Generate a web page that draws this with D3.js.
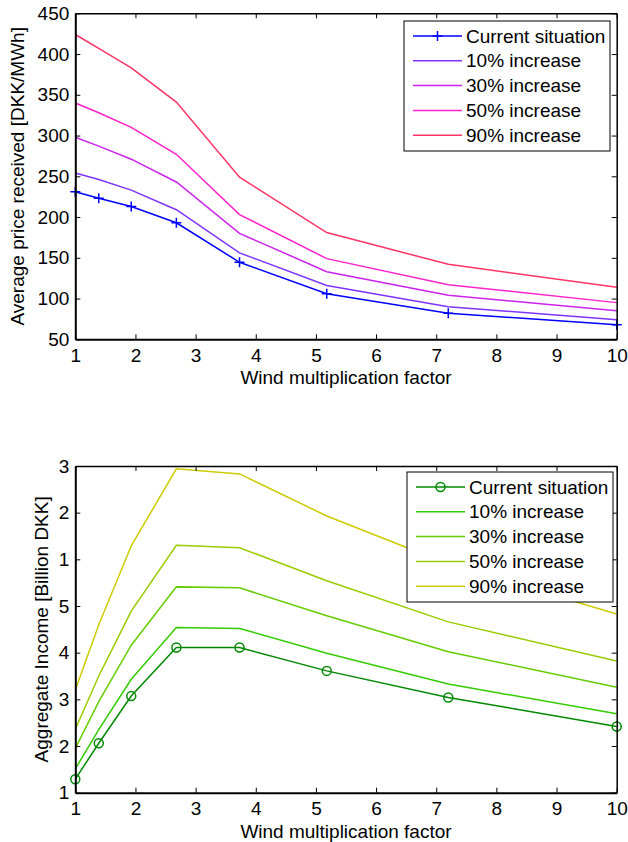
<html lang="en">
<head>
<meta charset="UTF-8">
<title>Wind multiplication factor</title>
<script src="https://d3js.org/d3.v7.min.js"></script>
<style>
    body { margin: 0; background: #fff; }
    svg { font-family: "Liberation Sans", Arial, sans-serif; }
</style>
</head>
<body>
<div id="chart"></div>
<script>
// wind multiplication factors (x values)
var windFactor = [1, 1.39, 1.93, 2.68, 3.73, 5.18, 7.2, 10];
var seriesNames = ["Current situation", "10% increase", "30% increase", "50% increase", "90% increase"];

// average price received [DKK/MWh]
var priceCurrent = [231, 223, 213, 193, 144.5, 106, 82, 68];
var price10 = [254, 246, 233, 209, 156, 116, 90, 74];
var price30 = [298, 287, 271, 243, 180, 133, 104, 85];
var price50 = [340, 328, 310, 277, 203, 149, 117, 95];
var price90 = [424, 407, 383, 341, 249, 181, 142, 114];

// aggregate income, in the units of the axis tick positions
var incomeCurrent = [1.29, 2.06, 3.07, 4.11, 4.11, 3.61, 3.04, 2.42];
var income10 = [1.51, 2.35, 3.43, 4.54, 4.52, 3.99, 3.33, 2.69];
var income30 = [1.95, 2.95, 4.16, 5.41, 5.39, 4.79, 4.02, 3.26];
var income50 = [2.36, 3.5, 4.89, 6.30, 6.25, 5.54, 4.66, 3.82];
var income90 = [3.2, 4.6, 6.29, 7.94, 7.83, 6.93, 5.9, 4.83];

var xTicks = [1, 2, 3, 4, 5, 6, 7, 8, 9, 10];
var priceTicks = [50, 100, 150, 200, 250, 300, 350, 400, 450];
var incomeTickPos = [1, 2, 3, 4, 5, 6, 7, 8];
var incomeTickLabels = ["1", "2", "3", "4", "5", "1", "2", "3"];

var priceColors = ["#0000ff", "#7f33ff", "#cc22ee", "#ff22cc", "#ff3366"];
var incomeColors = ["#008800", "#33cc00", "#66cc00", "#99cc00", "#cccc00"];

var W = 628, H = 842;
var svg = d3.select("#chart").append("svg")
    .attr("width", W)
    .attr("height", H);

function drawPanel(opt) {
    var x = d3.scaleLinear().domain([1, 10]).range([75.3, 616.7]);
    var y = d3.scaleLinear().domain(opt.yDomain).range([opt.bottom, opt.top]);
    var g = svg.append("g");

    // lines
    var line = d3.line()
        .x(function(d, i) { return x(windFactor[i]); })
        .y(function(d) { return y(d); });
    opt.series.forEach(function(s, k) {
        g.append("path")
            .attr("d", line(s))
            .attr("fill", "none")
            .attr("stroke", opt.colors[k])
            .attr("stroke-width", 1.5);
    });

    // markers for current situation
    var cur = opt.series[0];
    if (opt.marker == "plus") {
        g.selectAll(".mk").data(cur).enter().append("path")
            .attr("d", function(d, i) {
                var cx = x(windFactor[i]), cy = y(d);
                return "M" + (cx - 5) + "," + cy + "H" + (cx + 5) + "M" + cx + "," + (cy - 5) + "V" + (cy + 5);
            })
            .attr("stroke", opt.colors[0])
            .attr("stroke-width", 1.5);
    } else {
        g.selectAll(".mk").data(cur).enter().append("circle")
            .attr("cx", function(d, i) { return x(windFactor[i]); })
            .attr("cy", function(d) { return y(d); })
            .attr("r", 4.5)
            .attr("fill", "none")
            .attr("stroke", opt.colors[0])
            .attr("stroke-width", 1.5);
    }

    // axes (inward ticks on all four sides)
    var fs = "19px";
    var bottomAx = g.append("g").attr("transform", "translate(0," + opt.bottom + ")")
        .call(d3.axisBottom(x).tickValues(xTicks).tickSizeInner(-5).tickSizeOuter(0).tickPadding(9));
    var topAx = g.append("g").attr("transform", "translate(0," + opt.top + ")")
        .call(d3.axisTop(x).tickValues(xTicks).tickSizeInner(-5).tickSizeOuter(0).tickFormat(""));
    var leftAx = g.append("g").attr("transform", "translate(75.3,0)")
        .call(d3.axisLeft(y).tickValues(opt.yTicks).tickSizeInner(-5).tickSizeOuter(0).tickPadding(6)
            .tickFormat(function(d, i) { return opt.yLabels[i]; }));
    var rightAx = g.append("g").attr("transform", "translate(616.7,0)")
        .call(d3.axisRight(y).tickValues(opt.yTicks).tickSizeInner(-5).tickSizeOuter(0).tickFormat(""));
    [bottomAx, topAx, leftAx, rightAx].forEach(function(a) {
        a.selectAll("path.domain").attr("stroke", "#000").attr("stroke-width", 1.5);
        a.selectAll(".tick line").attr("stroke", "#000").attr("stroke-width", 1);
        a.selectAll("text").attr("fill", "#000").style("font-size", fs).style("font-family", null);
    });
    bottomAx.selectAll("path.domain").attr("stroke-width", 2);
    leftAx.selectAll("path.domain").attr("stroke-width", 2);

    // axis titles
    g.append("text")
        .attr("x", (75.3 + 616.7) / 2)
        .attr("y", opt.bottom + 45)
        .attr("text-anchor", "middle")
        .style("font-size", fs)
        .text("Wind multiplication factor");
    g.append("text")
        .attr("transform", "translate(" + opt.yTitleX + "," + ((opt.top + opt.bottom) / 2) + ") rotate(-90)")
        .attr("text-anchor", "middle")
        .style("font-size", fs)
        .text(opt.yTitle);

    // legend
    var lg = g.append("g").attr("transform", "translate(" + opt.legend[0] + "," + opt.legend[1] + ")");
    lg.append("rect")
        .attr("width", 206).attr("height", 130)
        .attr("fill", "#fff").attr("stroke", "#000").attr("stroke-width", 1);
    seriesNames.forEach(function(name, k) {
        var cy = 15 + k * 24.8;
        lg.append("line")
            .attr("x1", 9).attr("x2", 58).attr("y1", cy).attr("y2", cy)
            .attr("stroke", opt.colors[k]).attr("stroke-width", 1.5);
        lg.append("text")
            .attr("x", 62).attr("y", cy).attr("dy", "0.35em")
            .style("font-size", fs)
            .text(name);
    });
    var mx = 33.5, my = 15;
    if (opt.marker == "plus") {
        lg.append("path")
            .attr("d", "M" + (mx - 5) + "," + my + "H" + (mx + 5) + "M" + mx + "," + (my - 5) + "V" + (my + 5))
            .attr("stroke", opt.colors[0]).attr("stroke-width", 1.5);
    } else {
        lg.append("circle").attr("cx", mx).attr("cy", my).attr("r", 4.5)
            .attr("fill", "none").attr("stroke", opt.colors[0]).attr("stroke-width", 1.5);
    }
}

drawPanel({
    top: 13.3, bottom: 339.3,
    yDomain: [50, 450],
    yTicks: priceTicks,
    yLabels: priceTicks.map(String),
    series: [priceCurrent, price10, price30, price50, price90],
    colors: priceColors,
    marker: "plus",
    yTitle: "Average price received [DKK/MWh]",
    yTitleX: 24,
    legend: [404, 21]
});

drawPanel({
    top: 466, bottom: 792.7,
    yDomain: [1, 8],
    yTicks: incomeTickPos,
    yLabels: incomeTickLabels,
    series: [incomeCurrent, income10, income30, income50, income90],
    colors: incomeColors,
    marker: "circle",
    yTitle: "Aggregate Income [Billion DKK]",
    yTitleX: 48,
    legend: [407, 472]
});
</script>
</body>
</html>
